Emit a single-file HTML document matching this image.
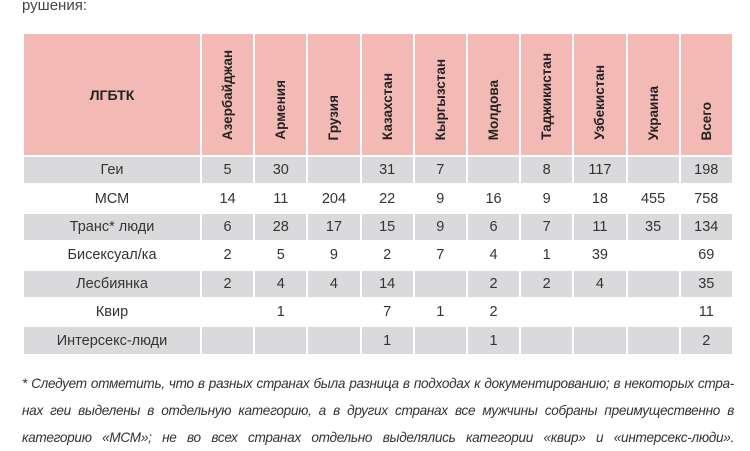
<!DOCTYPE html>
<html><head><meta charset="utf-8"><style>
body{margin:0;width:750px;height:430px;overflow:hidden;background:#fff;font-family:"Liberation Sans",sans-serif;color:#333;position:relative}
.top{position:absolute;left:22px;top:-3px;font-size:15px;color:#444}
table{position:absolute;left:22px;top:32px;border-collapse:collapse;table-layout:fixed;width:710px}
td,th{border:2px solid #fff;padding:0;text-align:center;font-size:14.5px;font-weight:normal}
th{background:#f2b9b5;height:109px;font-weight:bold;color:#222;font-size:14px}
th.v{vertical-align:bottom;padding-bottom:12px}
th.v div{writing-mode:vertical-rl;transform:rotate(180deg);display:inline-block;white-space:nowrap;font-size:13.5px}
td{height:26.4px}
tr.g td{background:#dadadc}
.foot{position:absolute;left:22px;top:370px;width:712px;font-style:italic;font-size:13.6px;line-height:27px;color:#333;letter-spacing:-0.3px}
.foot div{text-align:justify;text-align-last:justify;height:27px;overflow:hidden}
</style></head><body>
<div class="top">рушения:</div>
<table>
<colgroup><col style="width:178px"><col span="10" style="width:53.2px"></colgroup>
<tr><th>ЛГБТК</th>
<th class="v"><div>Азербайджан</div></th>
<th class="v"><div>Армения</div></th>
<th class="v"><div>Грузия</div></th>
<th class="v"><div>Казахстан</div></th>
<th class="v"><div>Кыргызстан</div></th>
<th class="v"><div>Молдова</div></th>
<th class="v"><div>Таджикистан</div></th>
<th class="v"><div>Узбекистан</div></th>
<th class="v"><div>Украина</div></th>
<th class="v"><div>Всего</div></th></tr>
<tr class="g"><td>Геи</td><td>5</td><td>30</td><td></td><td>31</td><td>7</td><td></td><td>8</td><td>117</td><td></td><td>198</td></tr>
<tr><td>МСМ</td><td>14</td><td>11</td><td>204</td><td>22</td><td>9</td><td>16</td><td>9</td><td>18</td><td>455</td><td>758</td></tr>
<tr class="g"><td>Транс* люди</td><td>6</td><td>28</td><td>17</td><td>15</td><td>9</td><td>6</td><td>7</td><td>11</td><td>35</td><td>134</td></tr>
<tr><td>Бисексуал/ка</td><td>2</td><td>5</td><td>9</td><td>2</td><td>7</td><td>4</td><td>1</td><td>39</td><td></td><td>69</td></tr>
<tr class="g"><td>Лесбиянка</td><td>2</td><td>4</td><td>4</td><td>14</td><td></td><td>2</td><td>2</td><td>4</td><td></td><td>35</td></tr>
<tr><td>Квир</td><td></td><td>1</td><td></td><td>7</td><td>1</td><td>2</td><td></td><td></td><td></td><td>11</td></tr>
<tr class="g"><td>Интерсекс-люди</td><td></td><td></td><td></td><td>1</td><td></td><td>1</td><td></td><td></td><td></td><td>2</td></tr>
</table>
<div class="foot">
<div>* Следует отметить, что в разных странах была разница в подходах к документированию; в некоторых стра-</div>
<div>нах геи выделены в отдельную категорию, а в других странах все мужчины собраны преимущественно в</div>
<div>категорию «МСМ»; не во всех странах отдельно выделялись категории «квир» и «интерсекс-люди».</div>
</div>
</body></html>
